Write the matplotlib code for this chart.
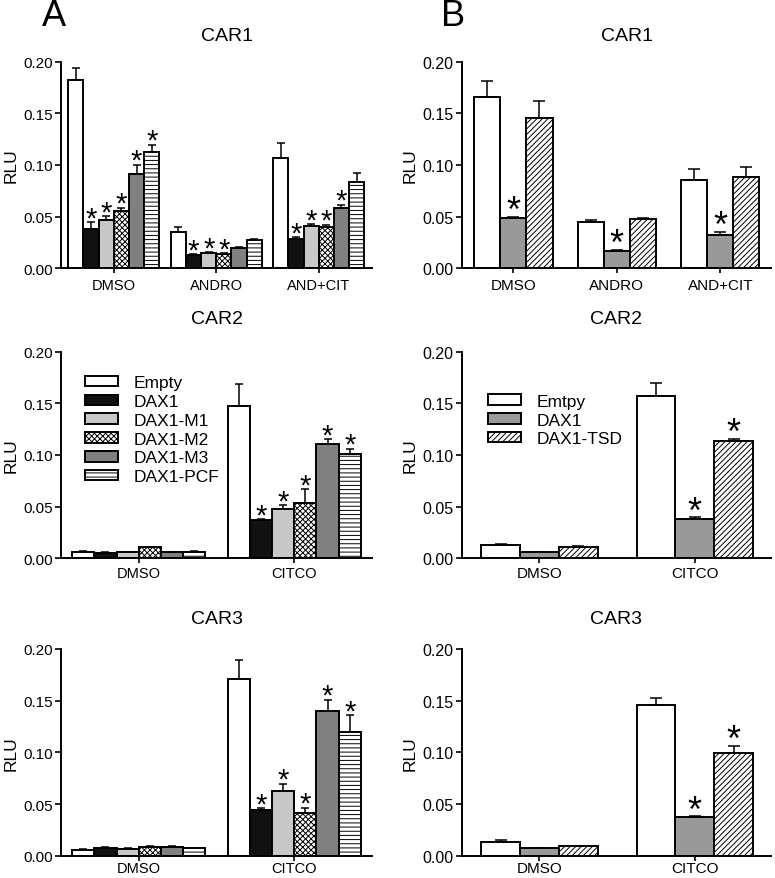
import numpy as np
import matplotlib
matplotlib.use('Agg')
import matplotlib.pyplot as plt

plt.rcParams['font.family'] = ['Liberation Sans', 'DejaVu Sans']
plt.rcParams['hatch.linewidth'] = 0.7

# ---- data ----
series_a = ['Empty', 'DAX1', 'DAX1-M1', 'DAX1-M2', 'DAX1-M3', 'DAX1-PCF']
series_b = ['Emtpy', 'DAX1', 'DAX1-TSD']

groups_car1 = ['DMSO', 'ANDRO', 'AND+CIT']
groups_car23 = ['DMSO', 'CITCO']

# panel A, CAR1 (rows = groups, cols = series)
a1_mean = [[0.1826, 0.0380, 0.0468, 0.0558, 0.0913, 0.1123],
           [0.0355, 0.0129, 0.0148, 0.0139, 0.0194, 0.0277],
           [0.1071, 0.0284, 0.0406, 0.0397, 0.0584, 0.0832]]
a1_err = [[0.0110, 0.0065, 0.0035, 0.0030, 0.0090, 0.0074],
          [0.0040, 0.0007, 0.0010, 0.0007, 0.0009, 0.0004],
          [0.0140, 0.0015, 0.0023, 0.0026, 0.0032, 0.0094]]
a1_star = [[0, 1, 1, 1, 1, 1],
           [0, 1, 1, 1, 0, 0],
           [0, 1, 1, 1, 1, 0]]

# panel A, CAR2
a2_mean = [[0.0065, 0.0055, 0.0060, 0.0106, 0.0060, 0.0065],
           [0.1470, 0.0374, 0.0474, 0.0535, 0.1110, 0.1013]]
a2_err = [[0.0006, 0.0004, 0.0004, 0.0007, 0.0004, 0.0006],
          [0.0216, 0.0007, 0.0042, 0.0136, 0.0045, 0.0048]]
a2_star = [[0, 0, 0, 0, 0, 0],
           [0, 1, 1, 1, 1, 1]]

# panel A, CAR3
a3_mean = [[0.0058, 0.0077, 0.0068, 0.0087, 0.0081, 0.0071],
           [0.1713, 0.0445, 0.0626, 0.0413, 0.1400, 0.1200]]
a3_err = [[0.0004, 0.0007, 0.0004, 0.0007, 0.0009, 0.0006],
          [0.0184, 0.0013, 0.0071, 0.0052, 0.0110, 0.0158]]
a3_star = [[0, 0, 0, 0, 0, 0],
           [0, 1, 1, 1, 1, 1]]

# panel B, CAR1
b1_mean = [[0.1661, 0.0484, 0.1455],
           [0.0445, 0.0165, 0.0477],
           [0.0855, 0.0326, 0.0887]]
b1_err = [[0.0152, 0.0010, 0.0165],
          [0.0026, 0.0010, 0.0010],
          [0.0106, 0.0026, 0.0093]]
b1_star = [[0, 1, 0], [0, 1, 0], [0, 1, 0]]

# panel B, CAR2
b2_mean = [[0.0132, 0.0058, 0.0113],
           [0.1574, 0.0380, 0.1139]]
b2_err = [[0.0010, 0.0004, 0.0006],
          [0.0126, 0.0017, 0.0016]]
b2_star = [[0, 0, 0], [0, 1, 1]]

# panel B, CAR3
b3_mean = [[0.0132, 0.0071, 0.0090],
           [0.1458, 0.0371, 0.0997]]
b3_err = [[0.0016, 0.0006, 0.0006],
          [0.0071, 0.0010, 0.0068]]
b3_star = [[0, 0, 0], [0, 1, 1]]

# styles
style_a = [dict(color='white'), dict(color='#111111'), dict(color='#c8c8c8'),
           dict(color='white', hatch='xxxxxx'), dict(color='#808080'),
           dict(color='white', hatch='----')]
style_b = [dict(color='white'), dict(color='#999999'),
           dict(color='white', hatch='//////')]


def draw_panel(ax, groups, mean, err, star, labels, styles, width, xlim,
               fs_tick, star_fs, capsize, title, title_x, title_pad,
               xpad=3.5, legend=None):
    mean = np.array(mean)
    err = np.array(err)
    n = len(labels)
    x0 = np.arange(len(groups))
    for i in range(n):
        xs = x0 + (i - (n - 1) / 2) * width
        st = styles[i]
        ax.errorbar(xs, mean[:, i], yerr=[np.zeros(len(groups)), err[:, i]],
                    fmt='none', ecolor='black', elinewidth=1.1, capsize=capsize,
                    capthick=1.1, zorder=1)
        ax.bar(xs, mean[:, i], width=width, facecolor=st['color'],
               edgecolor='black', linewidth=1.4, hatch=st.get('hatch'),
               label=labels[i], zorder=2)
        for g in range(len(groups)):
            if star[g][i]:
                ax.annotate('*', (xs[g], mean[g, i] + err[g, i]),
                            xytext=(0, -3), textcoords='offset points',
                            ha='center', va='baseline', fontsize=star_fs)
    ax.set_xlim(*xlim)
    ax.set_ylim(0, 0.2)
    ax.set_yticks([0, 0.05, 0.10, 0.15, 0.20])
    ax.set_yticklabels(['0.00', '0.05', '0.10', '0.15', '0.20'])
    ax.set_xticks(x0)
    ax.set_xticklabels(groups)
    ax.spines['top'].set_visible(False)
    ax.spines['right'].set_visible(False)
    ax.spines['left'].set_linewidth(1.4)
    ax.spines['bottom'].set_linewidth(1.4)
    ax.tick_params(axis='y', length=4.5, width=1.2, pad=1.5, labelsize=fs_tick)
    ax.tick_params(axis='x', length=3.5, width=1.2, pad=xpad,
                   labelsize=fs_tick - 0.5)
    ax.set_ylabel('RLU', fontsize=12.5, labelpad=3)
    ax.set_title(title, fontsize=14, x=title_x, pad=title_pad)
    if legend is not None:
        ax.legend(loc='upper left', bbox_to_anchor=legend, frameon=False,
                  fontsize=12.5, borderaxespad=0, handlelength=1.9,
                  handleheight=0.55, handletextpad=0.9, labelspacing=0.22)


fig = plt.figure(figsize=(7.75, 8.79), dpi=100)
W, H = 775, 879


def add_axes(l, r, t, b):
    return fig.add_axes([l / W, 1 - b / H, (r - l) / W, (b - t) / H])


axA1 = add_axes(61, 372, 62.7, 269.3)
axA2 = add_axes(61, 372, 352.7, 559.3)
axA3 = add_axes(61, 372, 650, 856.7)
axB1 = add_axes(461.7, 771, 62.7, 269.3)
axB2 = add_axes(461.7, 771, 352.7, 559.3)
axB3 = add_axes(461.7, 771, 650, 856.7)

draw_panel(axA1, groups_car1, a1_mean, a1_err, a1_star, series_a, style_a,
           0.148, (-0.515, 2.52), 11, 21, 3, 'CAR1', 0.535, 15.5, xpad=3.5)
draw_panel(axA2, groups_car23, a2_mean, a2_err, a2_star, series_a, style_a,
           0.143, (-0.5, 1.5), 11, 21, 3, 'CAR2', 0.5, 21, xpad=2,
           legend=(0.055, 0.92))
draw_panel(axA3, groups_car23, a3_mean, a3_err, a3_star, series_a, style_a,
           0.143, (-0.5, 1.5), 11, 21, 3, 'CAR3', 0.5, 19, xpad=0.5)
draw_panel(axB1, groups_car1, b1_mean, b1_err, b1_star, series_b, style_b,
           0.252, (-0.5, 2.49), 11.5, 26, 4.5, 'CAR1', 0.535, 15.5, xpad=3.5)
draw_panel(axB2, groups_car23, b2_mean, b2_err, b2_star, series_b, style_b,
           0.25, (-0.5, 1.49), 11.5, 26, 4.5, 'CAR2', 0.5, 21, xpad=2,
           legend=(0.062, 0.83))
draw_panel(axB3, groups_car23, b3_mean, b3_err, b3_star, series_b, style_b,
           0.25, (-0.5, 1.49), 11.5, 26, 4.5, 'CAR3', 0.5, 19, xpad=0.5)

fig.text(54 / W, 1 - 16 / H, 'A', fontsize=26, ha='center', va='center')
fig.text(453 / W, 1 - 16 / H, 'B', fontsize=26, ha='center', va='center')

fig.savefig('out.png', dpi=100)
